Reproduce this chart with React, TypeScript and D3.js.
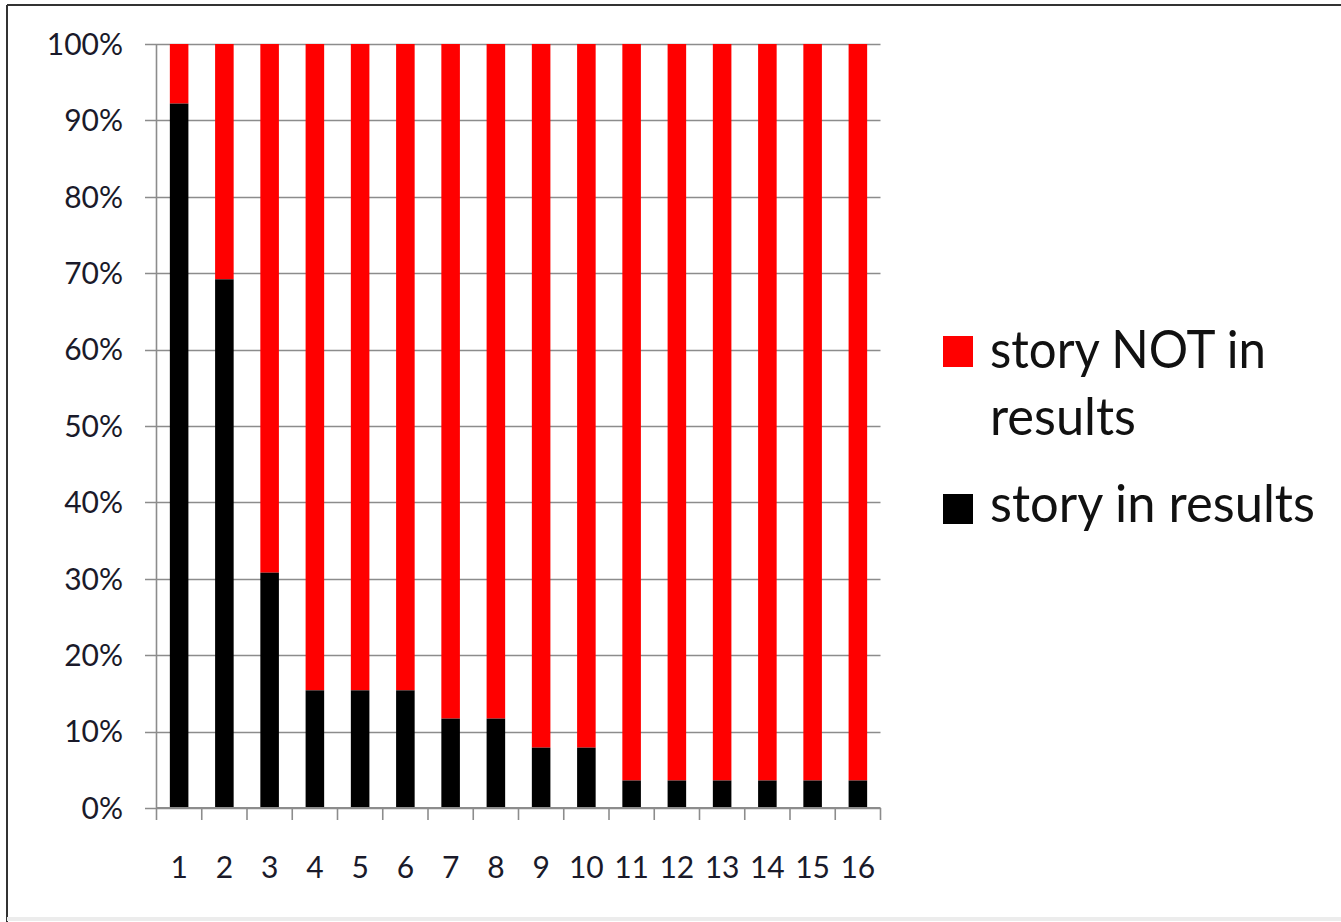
import React from "react";
import * as d3 from "d3";

const categories = ["1","2","3","4","5","6","7","8","9","10","11","12","13","14","15","16"];
const inResults = [92.2, 69.2, 30.8, 15.4, 15.4, 15.4, 11.7, 11.7, 7.9, 7.9, 3.6, 3.6, 3.6, 3.6, 3.6, 3.6];
const yTicks = [0, 10, 20, 30, 40, 50, 60, 70, 80, 90, 100];
const seriesNames = ["story NOT in results", "story in results"];
const seriesColors = ["#ff0000", "#000000"];

const W = 1341, H = 922;
const left = 156.5, right = 880.5, top = 44, bottom = 808;
const FONT = "Lato, 'Open Sans', sans-serif";

export default function App() {
  const x = d3.scaleBand<string>().domain(categories).range([left, right]).paddingInner(0.59).paddingOuter(0.295);
  const y = d3.scaleLinear().domain([0, 100]).range([bottom, top]);
  const step = (right - left) / categories.length;
  const gridColor = "#8c8c8c";
  return (
    <svg width={W} height={H} style={{ position: "absolute", left: 0, top: 0, background: "#fff" }}>
      <rect x={0} y={0} width={W} height={H} fill="#fff" />
      <line x1={7} x2={W} y1={5} y2={5} stroke="#333" strokeWidth={2} />
      <line x1={7} x2={7} y1={5} y2={H} stroke="#333" strokeWidth={2} />
      <line x1={7} x2={W} y1={H - 3} y2={H - 3} stroke="#ececec" strokeWidth={4} />
      {/* gridlines + y ticks */}
      {yTicks.map((t) => (
        <g key={t}>
          <line x1={145} x2={right} y1={Math.round(y(t)) + 0.5} y2={Math.round(y(t)) + 0.5} stroke={gridColor} strokeWidth={1.6} />
          <text x={123} y={y(t)} dy="0.36em" textAnchor="end" fontFamily={FONT} fontSize={30} fill="#1a1a2a">{t}%</text>
        </g>
      ))}
      {/* bars */}
      {categories.map((c, i) => {
        const v = inResults[i];
        const bx = x(c)!;
        const bw = x.bandwidth();
        return (
          <g key={c}>
            <rect x={bx} y={y(100)} width={bw} height={y(v) - y(100)} fill={seriesColors[0]} />
            <rect x={bx} y={y(v)} width={bw} height={y(0) - y(v)} fill={seriesColors[1]} />
          </g>
        );
      })}
      {/* axes */}
      <line x1={left} x2={left} y1={top} y2={bottom} stroke={gridColor} strokeWidth={1.6} />
      <line x1={left} x2={right} y1={bottom} y2={bottom} stroke={gridColor} strokeWidth={1.8} />
      {d3.range(categories.length + 1).map((k) => (
        <line key={k} x1={left + k * step} x2={left + k * step} y1={bottom} y2={bottom + 12} stroke={gridColor} strokeWidth={1.6} />
      ))}
      {categories.map((c) => (
        <text key={c} x={x(c)! + x.bandwidth() / 2} y={867} dy="0.36em" textAnchor="middle" fontFamily={FONT} fontSize={30} fill="#1a1a2a">{c}</text>
      ))}
      {/* legend */}
      <rect x={943} y={336} width={30} height={31} fill={seriesColors[0]} />
      <text x={990} y={368} fontFamily={FONT} fontSize={52} fill="#111" textLength={276} lengthAdjust="spacingAndGlyphs">story NOT in</text>
      <text x={990} y={435} fontFamily={FONT} fontSize={52} fill="#111" textLength={146} lengthAdjust="spacingAndGlyphs">results</text>
      <rect x={943} y={494} width={30} height={30} fill={seriesColors[1]} />
      <text x={990} y={522} fontFamily={FONT} fontSize={52} fill="#111" textLength={325} lengthAdjust="spacingAndGlyphs">{seriesNames[1]}</text>
    </svg>
  );
}
